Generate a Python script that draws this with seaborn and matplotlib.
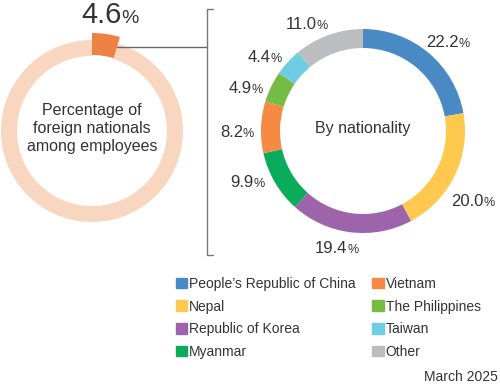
import matplotlib
matplotlib.use("Agg")
import matplotlib.pyplot as plt
import matplotlib.patches as mpatches
from matplotlib.offsetbox import TextArea, HPacker, AnnotationBbox
import seaborn as sns
import numpy as np

# data
foreign_share = 4.6
nationalities = ["People\u2019s Republic of China", "Nepal", "Republic of Korea", "Myanmar",
                 "Vietnam", "The Philippines", "Taiwan", "Other"]
shares = [22.2, 20.0, 19.4, 9.9, 8.2, 4.9, 4.4, 11.0]
nat_colors = ["#4a8ac4", "#fec94e", "#9d64ab", "#0aac5c",
              "#f68a45", "#74bc44", "#6fcde3", "#bcbdbf"]
ring_orange = "#ee8244"
ring_peach = "#f9d6bf"
txt = "#333333"

# hand placement of the ring labels (angle nudge in degrees, radius in px)
label_turn = [3.7, 6.8, 5.7, 6.4, -3, -5.7, -5.5, -8]
label_r = [123, 131, 120, 126, 126, 125, 123, 120]

sns.set_theme(style="white")
plt.rcParams['font.family'] = ['Liberation Sans', 'DejaVu Sans']

W, H = 500, 384
fig = plt.figure(figsize=(5, 3.84), dpi=100)
ax = fig.add_axes([0, 0, 1, 1])

def Y(y):
    # image row -> data y
    return H - y

# left ring
lc = (92, Y(131))
ax.pie([foreign_share, 100 - foreign_share], colors=["none", ring_peach],
       radius=91, center=lc, startangle=90, counterclock=False,
       wedgeprops=dict(width=16, linewidth=0))
ax.pie([foreign_share, 100 - foreign_share], colors=[ring_orange, "none"],
       radius=98, center=lc, startangle=90, counterclock=False,
       wedgeprops=dict(width=22, linewidth=0))

# right ring
rc = (363, Y(131))
ax.pie(shares, colors=sns.color_palette(nat_colors), radius=102, center=rc,
       startangle=90, counterclock=False,
       wedgeprops=dict(width=19, linewidth=0))

def pct_label(x, y, value, big, small):
    a = TextArea(f"{value:.1f}", textprops=dict(size=big, color=txt))
    b = TextArea("%", textprops=dict(size=small, color=txt))
    box = HPacker(children=[a, b], align="baseline", pad=0, sep=0)
    ab = AnnotationBbox(box, (x, y), frameon=False, box_alignment=(0.5, 0.5))
    ax.add_artist(ab)

# labels around the right ring
cum = np.cumsum([0] + shares[:-1])
for v, c, t, r in zip(shares, cum, label_turn, label_r):
    ang = np.deg2rad(90 - (c + v / 2) * 3.6 - t)
    pct_label(rc[0] + r * np.cos(ang), rc[1] + r * np.sin(ang), v, 12, 9)

pct_label(lc[0] + 18, Y(15), foreign_share, 21, 14)

ax.text(lc[0], lc[1] + 2, "Percentage of\nforeign nationals\namong employees",
        ha="center", va="center", size=11.5, color=txt, linespacing=1.25)
ax.text(rc[0], rc[1] + 2, "By nationality", ha="center", va="center",
        size=11.5, color=txt)

# connector and bracket
ang = np.deg2rad(90 - foreign_share * 3.6)
ax.plot([lc[0] + 88 * np.cos(ang), 207], [Y(47), Y(47)], color="#666666", lw=1)
ax.plot([213, 207, 207, 213], [Y(9), Y(9), Y(255), Y(255)], color="#777777", lw=1)

handles = [mpatches.Patch(color=c, label=n) for n, c in zip(nationalities, nat_colors)]
fig.legend(handles=handles, loc="upper left", bbox_to_anchor=(176 / W, 1 - 277 / H),
           ncol=2, frameon=False, fontsize=10, handlelength=0.8, handleheight=0.8,
           handletextpad=0.15, columnspacing=1.2, labelspacing=0.62, borderpad=0,
           borderaxespad=0, labelcolor=txt)

ax.text(498, Y(377), "March 2025", ha="right", va="center", size=10, color=txt)

ax.set_xlim(0, W)
ax.set_ylim(0, H)
ax.set_aspect("equal")
ax.axis("off")

fig.savefig("out.png", dpi=100, facecolor="white")
